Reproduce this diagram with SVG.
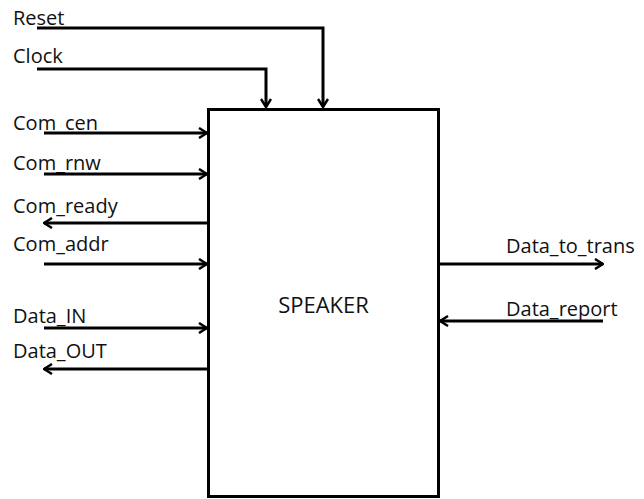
<svg xmlns="http://www.w3.org/2000/svg" width="644" height="499" viewBox="0 0 644 499">
<defs>
<marker id="arr" viewBox="0 0 12 12" refX="11" refY="6" markerWidth="12" markerHeight="12" markerUnits="userSpaceOnUse" orient="auto">
<path d="M3,1 L11,6 L3,11" fill="none" stroke="#000" stroke-width="2.5"/>
</marker>
</defs>
<style>
text{font-family:"Open Sans","Liberation Sans",Arial,sans-serif;font-size:20px;fill:#111}
.w{fill:none;stroke:#000;stroke-width:3}
</style>
<rect width="644" height="499" fill="#fff"/>
<g id="speaker">
<rect x="208.5" y="109.5" width="230" height="387" fill="#fff" stroke="#000" stroke-width="3"/>
<text x="323.5" y="313" text-anchor="middle" style="font-size:22px">SPEAKER</text>
</g>
<g id="labels">
<text x="13" y="25">Reset</text>
<text x="13" y="63">Clock</text>
<text x="13" y="130">Com_cen</text>
<text x="13" y="170">Com_rnw</text>
<text x="13" y="213">Com_ready</text>
<text x="13" y="251">Com_addr</text>
<text x="13" y="323">Data_IN</text>
<text x="13" y="358">Data_OUT</text>
<text x="506" y="253">Data_to_trans</text>
<text x="506" y="316">Data_report</text>
</g>
<g id="connectors">
<path class="w" d="M37,28 H323 V107" marker-end="url(#arr)"/>
<path class="w" d="M37,69 H266 V107" marker-end="url(#arr)"/>
<path class="w" d="M44,133 H207" marker-end="url(#arr)"/>
<path class="w" d="M44,174 H207" marker-end="url(#arr)"/>
<path class="w" d="M207,223 H44" marker-end="url(#arr)"/>
<path class="w" d="M44,264 H207" marker-end="url(#arr)"/>
<path class="w" d="M44,328 H207" marker-end="url(#arr)"/>
<path class="w" d="M207,369 H44" marker-end="url(#arr)"/>
<path class="w" d="M440,264 H603" marker-end="url(#arr)"/>
<path class="w" d="M603,321 H440" marker-end="url(#arr)"/>
</g>
</svg>
